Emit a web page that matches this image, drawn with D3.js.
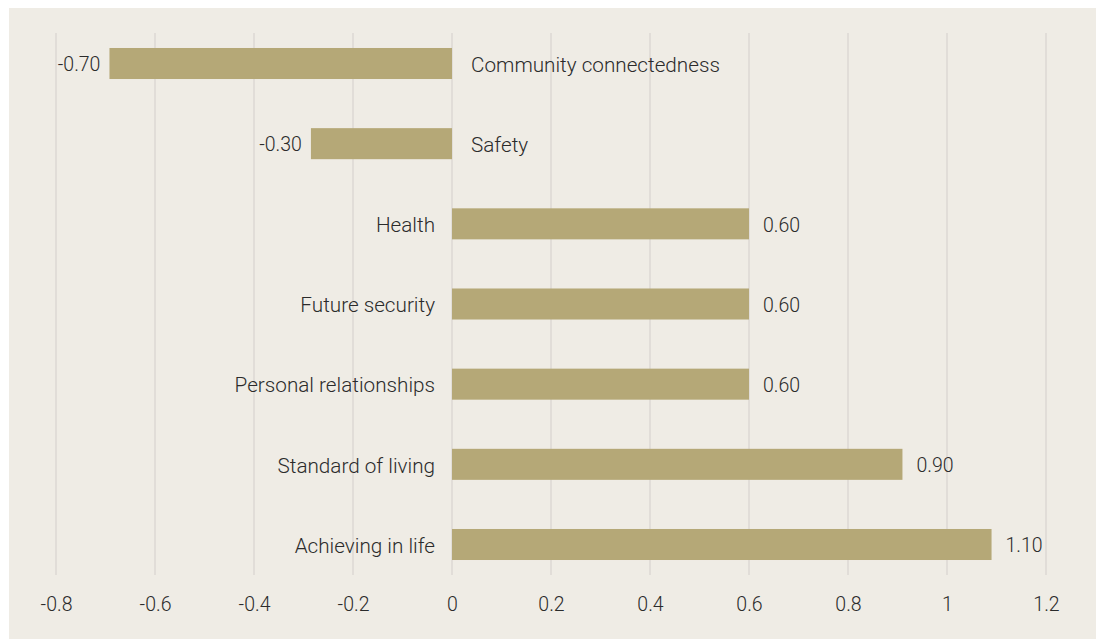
<!DOCTYPE html>
<html>
<head>
<meta charset="utf-8">
<script src="https://cdn.jsdelivr.net/npm/d3@7"></script>
<style>
  body { margin: 0; background: #fff; }
  svg { display: block; }
  text { font-family: Roboto, "Noto Sans", sans-serif; font-weight: 300; fill: #2b2b2b; }
</style>
</head>
<body>
<svg id="chart"></svg>
<script>
// categories top to bottom
const categories = ["Community connectedness", "Safety", "Health", "Future security",
  "Personal relationships", "Standard of living", "Achieving in life"];
// bar values
const values = [-0.692, -0.285, 0.6, 0.6, 0.6, 0.91, 1.09];
// value labels as printed on the chart
const valueLabels = ["-0.70", "-0.30", "0.60", "0.60", "0.60", "0.90", "1.10"];
const xTicks = [-0.8, -0.6, -0.4, -0.2, 0, 0.2, 0.4, 0.6, 0.8, 1, 1.2];

const W = 1096, H = 639;
const svg = d3.select("#chart").attr("width", W).attr("height", H);

// beige panel
svg.append("rect").attr("x", 9).attr("y", 8).attr("width", W - 9).attr("height", H - 8)
  .attr("fill", "#efece5");

const plotTop = 33, plotBottom = 575;
const x = d3.scaleLinear().domain([-0.8, 1.2]).range([56, 1046]);
const y = d3.scaleBand().domain(categories).range([plotTop, plotBottom])
  .paddingInner(0.613).paddingOuter(0.187);

// grid lines
svg.append("g").selectAll("line").data(xTicks).enter().append("line")
  .attr("x1", d => x(d)).attr("x2", d => x(d))
  .attr("y1", plotTop).attr("y2", plotBottom)
  .attr("stroke", "#dcd9d3").attr("stroke-width", 1.5);

// axis tick labels (plain hyphen for minus, like the original)
const xAxis = d3.axisBottom(x).tickValues(xTicks).tickSize(0).tickPadding(0)
  .tickFormat(d => String(d));
const ax = svg.append("g").attr("transform", "translate(0," + 597 + ")").call(xAxis);
ax.select(".domain").remove();
ax.selectAll("text").attr("font-size", 19.5).attr("dy", "0.71em")
  .style("font-family", "Roboto, sans-serif").style("font-weight", 300).attr("fill", "#2b2b2b");

const rows = svg.append("g").selectAll("g").data(categories).enter().append("g");

rows.append("rect")
  .attr("x", (d, i) => Math.min(x(0), x(values[i])))
  .attr("width", (d, i) => Math.abs(x(values[i]) - x(0)))
  .attr("y", d => y(d))
  .attr("height", y.bandwidth())
  .attr("fill", "#b5a877");

// category labels: on opposite side of zero
rows.append("text")
  .attr("x", (d, i) => values[i] < 0 ? x(0) + 19 : x(0) - 17)
  .attr("y", d => y(d) + y.bandwidth() / 2)
  .attr("dy", "0.4em")
  .attr("text-anchor", (d, i) => values[i] < 0 ? "start" : "end")
  .attr("font-size", 20.7)
  .text(d => d);

// value labels at the bar end
rows.append("text")
  .attr("x", (d, i) => values[i] < 0 ? x(values[i]) - 9 : x(values[i]) + 14)
  .attr("y", d => y(d) + y.bandwidth() / 2)
  .attr("dy", "0.4em")
  .attr("text-anchor", (d, i) => values[i] < 0 ? "end" : "start")
  .attr("font-size", 19.5)
  .text((d, i) => valueLabels[i]);
</script>
</body>
</html>
